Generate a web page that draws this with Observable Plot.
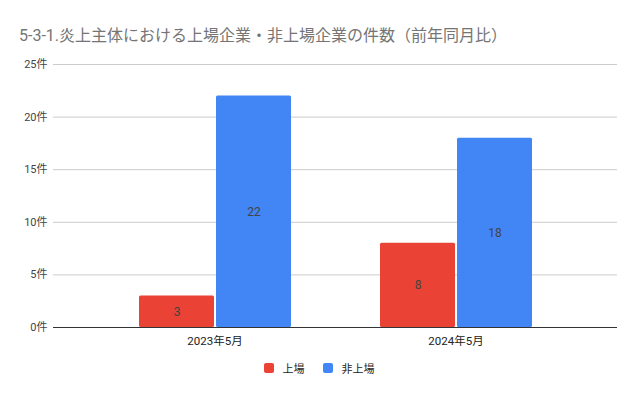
<!DOCTYPE html>
<html><head><meta charset="utf-8">
<script src="https://cdn.jsdelivr.net/npm/d3@7"></script>
<script src="https://cdn.jsdelivr.net/npm/@observablehq/plot@0.6"></script>
<style>
html,body{margin:0;padding:0;background:#fff;}
body{width:638px;height:395px;position:relative;overflow:hidden;font-family:Roboto,"Noto Sans CJK JP",sans-serif;}
#title{position:absolute;left:19px;top:22px;font-size:16px;color:#757575;white-space:nowrap;z-index:2;}
#chart{position:absolute;left:0;top:0;z-index:1;}
#legend{position:absolute;left:0;width:638px;top:360px;display:flex;justify-content:center;gap:18px;font-size:11px;color:#222;z-index:2;}
#legend span.item{display:flex;align-items:center;}
#legend span.sw{display:inline-block;width:10px;height:10px;border-radius:2px;margin-right:9px;}
</style></head>
<body>
<div id="chart"></div>
<div id="title">5-3-1.炎上主体における上場企業・非上場企業の件数（前年同月比）</div>
<div id="legend"></div>
<script>
const groups = ["2023年5月", "2024年5月"];
const seriesNames = ["上場", "非上場"];
const listed = [3, 8];
const unlisted = [22, 18];
const colors = ["#EA4335", "#4285F4"];
const yTicks = [0, 5, 10, 15, 20, 25];

const data = [];
groups.forEach((g, i) => {
  data.push({group: g, series: seriesNames[0], value: listed[i]});
  data.push({group: g, series: seriesNames[1], value: unlisted[i]});
});
const gridFor = (g, ticks) => ticks.map(t => ({group: g, tick: t}));

const ext = 41;
const chart = Plot.plot({
  width: 638,
  height: 355,
  marginLeft: 52,
  marginRight: 20,
  marginTop: 64,
  marginBottom: 28,
  style: {fontFamily: 'Roboto,"Noto Sans CJK JP",sans-serif', fontSize: "11px", color: "#222", background: "transparent", overflow: "visible"},
  fx: {domain: groups, paddingInner: 0, paddingOuter: 0.17, label: null, axis: null},
  x: {domain: seriesNames, paddingInner: 0.026, paddingOuter: 0.564, axis: null},
  y: {domain: [0, 25], ticks: yTicks, label: null},
  color: {domain: seriesNames, range: colors},
  marks: [
    Plot.ruleY(gridFor(groups[0], yTicks.filter(t => t > 0)), {fx: "group", y: "tick", stroke: "#cccccc", strokeWidth: 1, insetLeft: -ext}),
    Plot.ruleY(gridFor(groups[1], yTicks.filter(t => t > 0)), {fx: "group", y: "tick", stroke: "#cccccc", strokeWidth: 1, insetRight: -ext}),
    Plot.axisY({ticks: yTicks, tickSize: 0, tickPadding: 6, dx: -ext, tickFormat: d => d + "件", label: null, fill: "#444", fontSize: 11}),
    Plot.axisFx({anchor: "bottom", tickSize: 0, tickPadding: 9, label: null, fill: "#222", fontSize: 11.5}),
    Plot.barY(data, {fx: "group", x: "series", y: "value", fill: "series", rx: 1.5}),
    Plot.text(data, {fx: "group", x: "series", y: d => d.value / 2, text: d => String(d.value), fill: "#444", fontSize: 12}),
    Plot.ruleY(gridFor(groups[0], [0]), {fx: "group", y: "tick", stroke: "#333", strokeWidth: 1, insetLeft: -ext}),
    Plot.ruleY(gridFor(groups[1], [0]), {fx: "group", y: "tick", stroke: "#333", strokeWidth: 1, insetRight: -ext})
  ]
});
document.getElementById("chart").appendChild(chart);

const legend = document.getElementById("legend");
seriesNames.forEach((s, i) => {
  const item = document.createElement("span");
  item.className = "item";
  const sw = document.createElement("span");
  sw.className = "sw";
  sw.style.background = colors[i];
  item.appendChild(sw);
  item.appendChild(document.createTextNode(s));
  legend.appendChild(item);
});
</script>
</body></html>
